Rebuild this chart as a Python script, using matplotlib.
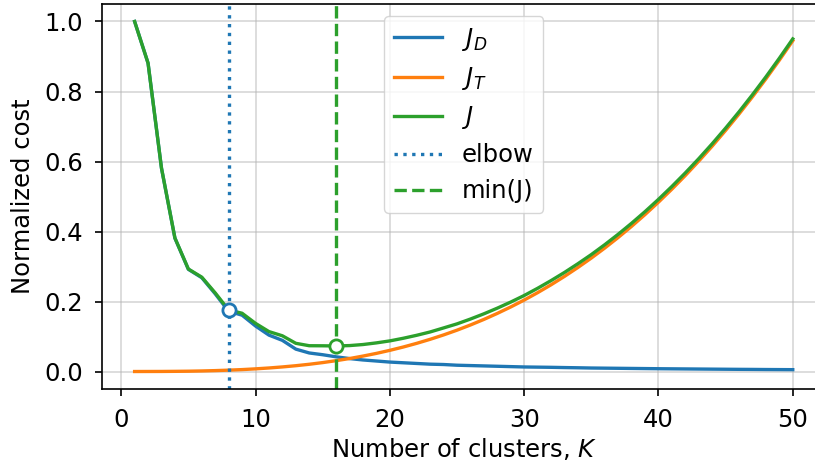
import numpy as np
import matplotlib
matplotlib.use("Agg")
import matplotlib.pyplot as plt

# Number of clusters
K = list(range(1, 51))

# Normalized distortion cost J_D (decreasing with K)
J_D = [1.000, 0.881, 0.581, 0.381, 0.292, 0.268, 0.222, 0.172, 0.161, 0.130,
       0.104, 0.089, 0.064, 0.053, 0.048, 0.042, 0.037, 0.033, 0.030, 0.027,
       0.025, 0.023, 0.021, 0.020, 0.018, 0.017, 0.016, 0.015, 0.014, 0.013,
       0.0125, 0.012, 0.0113, 0.0107, 0.010, 0.0096, 0.0092, 0.0088, 0.0084, 0.008,
       0.0077, 0.0074, 0.0071, 0.0068, 0.0065, 0.0062, 0.006, 0.0057, 0.0055, 0.0053]

# Normalized transmission cost J_T (increasing with K)
J_T = [0.0000, 0.0001, 0.0002, 0.0005, 0.0009, 0.0016, 0.0026, 0.0039, 0.0055, 0.0076,
       0.0101, 0.0131, 0.0166, 0.0207, 0.0255, 0.0310, 0.0371, 0.0441, 0.0518, 0.0605,
       0.0700, 0.0805, 0.0920, 0.1045, 0.1181, 0.1329, 0.1488, 0.1660, 0.1844, 0.2041,
       0.2252, 0.2477, 0.2717, 0.2972, 0.3241, 0.3527, 0.3829, 0.4148, 0.4484, 0.4838,
       0.5210, 0.5600, 0.6010, 0.6439, 0.6889, 0.7358, 0.7849, 0.8361, 0.8895, 0.9450]

K_elbow = 8
K_min = 16

K_arr = np.array(K)
jd = np.array(J_D)
jt = np.array(J_T)
J = jd + jt

plt.rcParams.update({
    "font.size": 17.5,
    "xtick.major.size": 5.3,
    "ytick.major.size": 5.3,
    "xtick.major.width": 1.2,
    "ytick.major.width": 1.2,
    "xtick.major.pad": 8.5,
    "ytick.major.pad": 8.0,
    "axes.linewidth": 1.2,
})

fig = plt.figure(figsize=(8.15, 4.65), dpi=100)
ax = fig.add_axes([0.1248, 0.1634, 0.8883, 0.828])
ax.spines["right"].set_visible(False)

lw = 2.4
ax.plot(K_arr, jd, color="C0", lw=lw, label="$J_D$")
ax.plot(K_arr, jt, color="C1", lw=lw, label="$J_T$")
ax.plot(K_arr, J, color="C2", lw=lw, label="$J$")
ax.axvline(K_elbow, color="C0", ls=":", lw=lw, label="elbow")
ax.axvline(K_min, color="C2", ls="--", lw=lw, label="min(J)")

ax.plot([K_elbow], [J[K_elbow - 1]], "o", ms=9.5, mfc="white", mec="C0", mew=2, zorder=5)
ax.plot([K_min], [J[K_min - 1]], "o", ms=9.5, mfc="white", mec="C2", mew=2, zorder=5)

ax.grid(True, alpha=0.5, lw=1.2)
ax.set_xlabel("Number of clusters, $K$", labelpad=3)
ax.set_ylabel("Normalized cost", labelpad=7)
ax.set_xticks([0, 10, 20, 30, 40, 50])
ax.set_yticks([0.0, 0.2, 0.4, 0.6, 0.8, 1.0])
ax.legend(loc="upper center")

fig.savefig("out.png", dpi=100)
